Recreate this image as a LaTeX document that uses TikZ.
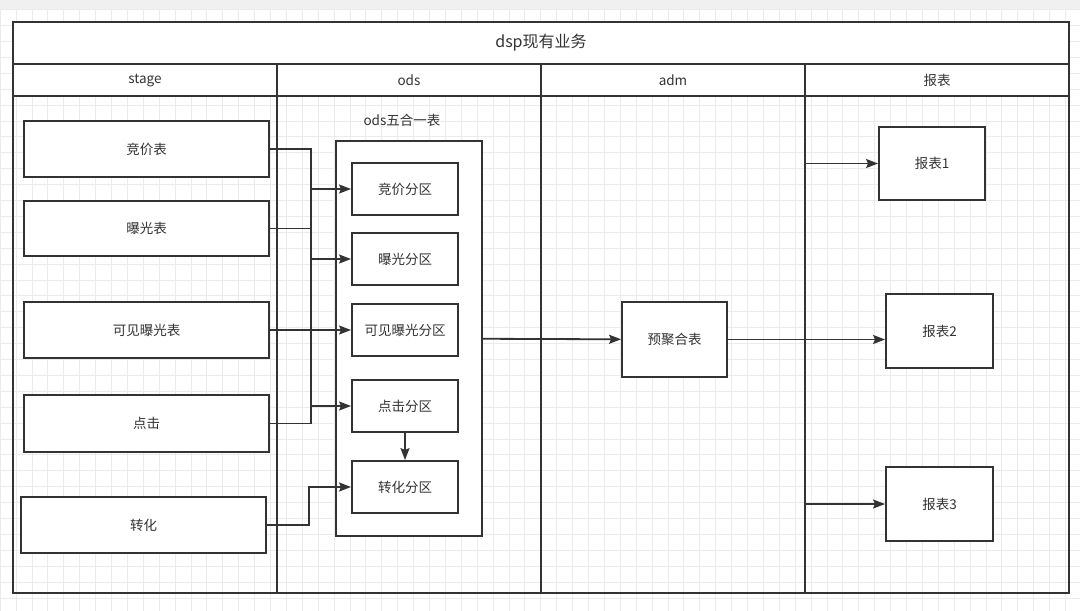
\documentclass[tikz,border=0pt]{standalone}
\usepackage{fontspec}
\setmainfont{Noto Sans CJK SC}
\usetikzlibrary{arrows.meta,positioning,calc}
\definecolor{linecol}{HTML}{333333}
\definecolor{gridcol}{HTML}{EBEBEB}
\definecolor{bandcol}{HTML}{F0F0F0}
\tikzset{
    box/.style={
        rectangle,
        draw=linecol,
        line width=1.9pt,
        fill=white,
        text=linecol,
        inner sep=0pt,
        font=\fontsize{13.5}{16}\selectfont,
    },
    lane/.style={
        draw=linecol,
        line width=1.9pt,
    },
    label/.style={
        text=linecol,
        inner sep=0pt,
        font=\fontsize{13.5}{16}\selectfont,
    },
    wire/.style={
        draw=linecol,
        line width=1.8pt,
    },
    edge/.style={
        wire,
        -{Stealth[length=12pt,width=9pt,inset=2pt]},
    },
    gridline/.style={
        draw=gridcol,
        line width=0.6pt,
    },
}

\begin{document}
\begin{tikzpicture}[x=1pt,y=-1pt]

    % Background and grid
    \useasboundingbox (0,0) rectangle (1080,611);
    \fill[white] (0,0) rectangle (1080,611);
    \foreach \gx in {0,15.9,...,1080} {
        \draw[gridline] (\gx,9) -- (\gx,611);
    }
    \foreach \gy in {9.5,25.4,...,611} {
        \draw[gridline] (0,\gy) -- (1080,\gy);
    }
    \fill[bandcol] (0,0) rectangle (1080,9);

    % Swimlane frame
    \fill[white] (13,22) rectangle (1069,96);
    \draw[lane] (13,22) rectangle (1069,593);
    \draw[lane] (13,64) -- (1069,64);
    \draw[lane] (13,96) -- (1069,96);
    \foreach \lx in {277,541,805} {
        \draw[lane] (\lx,64) -- (\lx,593);
    }
    \node[label, font=\fontsize{16}{19}\selectfont] (title) at (541,43) {dsp现有业务};
    \node[label] (h-stage) at (145,80) {stage};
    \node[label] (h-ods) at (409,80) {ods};
    \node[label] (h-adm) at (673,80) {adm};
    \node[label] (h-report) at (937,80) {报表};

    % Stage tables
    \node[box, minimum width=245, minimum height=56] (jjb) at (146.5,149) {竞价表};
    \node[box, minimum width=245, minimum height=55] (bgb) at (146.5,228.5) {曝光表};
    \node[box, minimum width=245, minimum height=56] (kjb) at (146.5,330) {可见曝光表};
    \node[box, minimum width=245, minimum height=57] (djb) at (146.5,423.5) {点击};
    \node[box, minimum width=245, minimum height=56] (zhb) at (143.5,525) {转化};

    % Ods container and partitions
    \node[box, minimum width=146, minimum height=395] (ods) at (409,338.5) {};
    \node[label] (ods-title) at (402,120) {ods五合一表};
    \node[box, minimum width=106, minimum height=52] (jjfq) at (405,189) {竞价分区};
    \node[box, minimum width=106, minimum height=52] (bgfq) at (405,259) {曝光分区};
    \node[box, minimum width=106, minimum height=52] (kjfq) at (405,330) {可见曝光分区};
    \node[box, minimum width=106, minimum height=52] (djfq) at (405,406) {点击分区};
    \node[box, minimum width=106, minimum height=52] (zhfq) at (405,487) {转化分区};

    % Adm and reports
    \node[box, minimum width=105, minimum height=75] (ycb) at (674.5,339.5) {预聚合表};
    \node[box, minimum width=106, minimum height=73] (bb1) at (932,163.5) {报表1};
    \node[box, minimum width=107, minimum height=74] (bb2) at (939.5,331) {报表2};
    \node[box, minimum width=107, minimum height=74] (bb3) at (939.5,504) {报表3};

    % Connectors
    \draw[edge] (jjb.east) -- ++(41,0) |- (jjfq.west);
    \draw[edge] (bgb.east) -- ++(41,0) |- (bgfq.west);
    \draw[edge] (kjb.east) -- (kjfq.west);
    \draw[edge] (djb.east) -- ++(41,0) |- (djfq.west);
    \draw[edge] (zhb.east) -- ++(42,0) |- (zhfq.west);
    \draw[wire] ($(jjb.east)+(41,0)$) -- ($(djb.east)+(41,0)$);
    \draw[edge] (djfq) -- (zhfq);
    \draw[edge] (ods) -- (ycb);
    \draw[edge] (ycb.east) -- ++(77,0) |- (bb1.west);
    \draw[edge] (ycb.east) -- (ycb.east -| bb2.west);
    \draw[edge] (ycb.east) -- ++(77,0) |- (bb3.west);
\end{tikzpicture}
\end{document}
